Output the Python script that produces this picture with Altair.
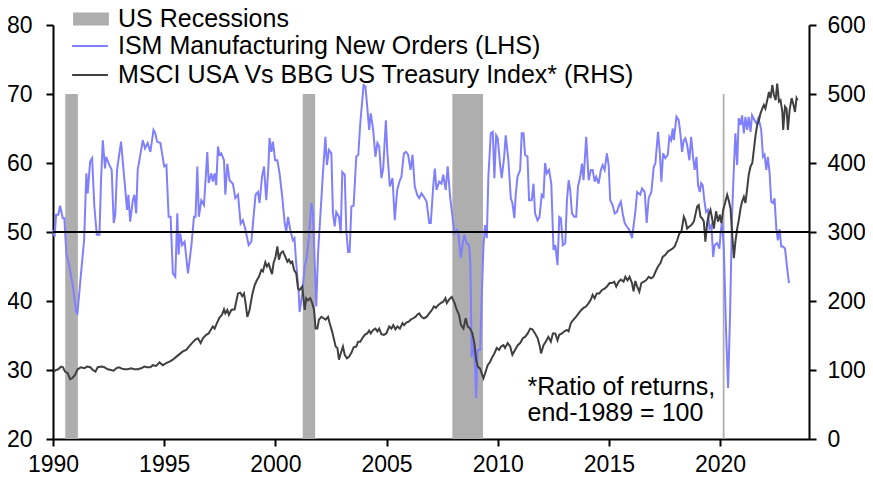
import altair as alt
import pandas as pd

FONT = "Liberation Sans"

# ---------------- data ----------------
ism_year = [
    1990.00, 1990.07, 1990.14, 1990.24, 1990.32, 1990.44, 1990.51, 1990.60, 1990.74, 1990.90,
    1991.04, 1991.10, 1991.26, 1991.40, 1991.50, 1991.56, 1991.67, 1991.76, 1991.86, 1991.97,
    1992.09, 1992.16, 1992.24, 1992.34, 1992.39, 1992.54, 1992.64, 1992.73, 1992.80, 1992.88,
    1993.06, 1993.20, 1993.33, 1993.39, 1993.47, 1993.59, 1993.66, 1993.74, 1993.81, 1994.04,
    1994.14, 1994.26, 1994.38, 1994.52, 1994.60, 1994.68, 1994.83, 1995.00, 1995.10, 1995.20,
    1995.29, 1995.39, 1995.50, 1995.59, 1995.65, 1995.72, 1995.81, 1995.92, 1996.07, 1996.22,
    1996.34, 1996.41, 1996.49, 1996.56, 1996.67, 1996.79, 1996.94, 1997.00, 1997.12, 1997.19,
    1997.27, 1997.34, 1997.42, 1997.49, 1997.57, 1997.69, 1997.75, 1997.84, 1997.94, 1998.09,
    1998.20, 1998.32, 1998.44, 1998.54, 1998.66, 1998.80, 1998.92, 1999.11, 1999.22, 1999.29,
    1999.40, 1999.49, 1999.59, 1999.68, 1999.74, 1999.82, 1999.89, 1999.99, 2000.09, 2000.19,
    2000.31, 2000.42, 2000.49, 2000.57, 2000.67, 2000.79, 2000.86, 2000.94, 2001.05, 2001.09,
    2001.21, 2001.32, 2001.42, 2001.51, 2001.62, 2001.69, 2001.77, 2001.84, 2001.92, 2002.02,
    2002.14, 2002.25, 2002.32, 2002.41, 2002.52, 2002.59, 2002.67, 2002.74, 2002.86, 2002.94,
    2003.01, 2003.12, 2003.19, 2003.27, 2003.34, 2003.42, 2003.52, 2003.64, 2003.73, 2003.82,
    2003.91, 2003.97, 2004.05, 2004.13, 2004.22, 2004.29, 2004.40, 2004.50, 2004.59, 2004.67,
    2004.77, 2004.85, 2004.97, 2005.04, 2005.15, 2005.27, 2005.37, 2005.48, 2005.60, 2005.67,
    2005.78, 2005.87, 2005.97, 2006.08, 2006.17, 2006.27, 2006.38, 2006.47, 2006.57, 2006.68,
    2006.80, 2006.92, 2006.99, 2007.10, 2007.17, 2007.25, 2007.37, 2007.47, 2007.55, 2007.66,
    2007.75, 2007.86, 2007.93, 2008.05, 2008.16, 2008.23, 2008.34, 2008.41, 2008.50, 2008.60,
    2008.71, 2008.77, 2008.83, 2008.90, 2008.98, 2009.03, 2009.10, 2009.21, 2009.28, 2009.36,
    2009.43, 2009.51, 2009.58, 2009.69, 2009.78, 2009.85, 2009.93, 2010.00, 2010.11, 2010.18,
    2010.29, 2010.36, 2010.48, 2010.59, 2010.66, 2010.75, 2010.81, 2010.89, 2011.01, 2011.08,
    2011.16, 2011.23, 2011.34, 2011.41, 2011.53, 2011.61, 2011.68, 2011.79, 2011.88, 2011.98,
    2012.06, 2012.13, 2012.21, 2012.31, 2012.41, 2012.51, 2012.59, 2012.69, 2012.77, 2012.84,
    2012.93, 2013.04, 2013.11, 2013.19, 2013.26, 2013.34, 2013.44, 2013.53, 2013.61, 2013.71,
    2013.79, 2013.86, 2013.98, 2014.09, 2014.19, 2014.27, 2014.36, 2014.43, 2014.54, 2014.64,
    2014.72, 2014.81, 2014.91, 2014.99, 2015.06, 2015.17, 2015.26, 2015.36, 2015.44, 2015.54,
    2015.62, 2015.71, 2015.81, 2015.92, 2016.04, 2016.19, 2016.27, 2016.41, 2016.49, 2016.61,
    2016.70, 2016.79, 2016.91, 2017.02, 2017.09, 2017.21, 2017.29, 2017.36, 2017.44, 2017.54,
    2017.65, 2017.72, 2017.80, 2017.87, 2017.92, 2018.04, 2018.14, 2018.22, 2018.29, 2018.37,
    2018.44, 2018.52, 2018.62, 2018.70, 2018.79, 2018.86, 2018.94, 2019.01, 2019.09, 2019.15,
    2019.22, 2019.30, 2019.37, 2019.46, 2019.52, 2019.61, 2019.69, 2019.76, 2019.87, 2019.97,
    2020.03, 2020.09, 2020.17, 2020.27, 2020.36, 2020.45, 2020.54, 2020.62, 2020.69, 2020.77,
    2020.84, 2020.92, 2020.99, 2021.07, 2021.14, 2021.22, 2021.29, 2021.37, 2021.44, 2021.55,
    2021.64, 2021.72, 2021.79, 2021.85, 2021.93, 2022.00, 2022.08, 2022.15, 2022.23, 2022.30,
    2022.38, 2022.45, 2022.53, 2022.60, 2022.68, 2022.75, 2022.83, 2022.92, 2023.02, 2023.10,
]
ism_value = [
    50.3, 49.3, 52.5, 52.5, 53.8, 52.0, 52.0, 46.9, 45.0, 42.0,
    38.4, 38.2, 44.0, 48.8, 58.5, 55.6, 60.2, 60.7, 53.7, 49.6,
    49.6, 57.5, 63.3, 59.2, 60.9, 59.7, 59.0, 51.3, 52.5, 59.0,
    63.1, 58.0, 53.2, 55.4, 51.5, 54.6, 55.4, 52.7, 59.0, 63.3,
    62.1, 62.9, 61.6, 64.8, 64.3, 63.1, 62.9, 59.5, 59.7, 52.2,
    52.2, 44.0, 43.5, 52.7, 46.7, 49.8, 48.1, 48.6, 44.0, 47.9,
    52.2, 52.2, 59.5, 52.2, 54.6, 53.9, 61.6, 57.1, 58.5, 57.3,
    58.5, 56.8, 62.4, 61.2, 61.4, 60.4, 55.4, 59.9, 57.5, 57.0,
    54.9, 55.4, 51.2, 51.7, 50.3, 48.1, 48.6, 55.4, 55.8, 54.2,
    58.0, 59.5, 54.6, 59.0, 63.6, 61.6, 63.1, 60.4, 60.4, 58.5,
    55.1, 51.3, 50.0, 52.2, 50.3, 48.8, 49.1, 45.4, 41.1, 38.4,
    41.1, 45.0, 46.4, 49.3, 54.2, 52.7, 45.4, 39.2, 46.9, 52.2,
    58.5, 63.8, 59.7, 61.9, 61.4, 52.7, 50.8, 52.9, 52.2, 49.8,
    58.7, 58.3, 50.3, 47.1, 47.1, 53.7, 53.8, 60.9, 61.2, 65.8,
    69.1, 71.3, 71.1, 68.2, 64.8, 67.2, 64.8, 60.9, 62.9, 62.4,
    57.8, 59.2, 66.2, 61.4, 56.6, 57.8, 51.7, 56.1, 57.5, 58.0,
    61.4, 61.6, 61.2, 59.0, 61.2, 56.6, 55.4, 54.9, 55.6, 55.1,
    54.4, 51.3, 51.3, 56.6, 59.2, 56.1, 57.3, 57.0, 58.3, 56.1,
    59.5, 55.1, 53.2, 49.8, 50.3, 49.8, 46.2, 47.9, 49.6, 48.4,
    48.1, 45.5, 31.9, 34.4, 30.5, 25.9, 32.9, 32.9, 40.6, 47.9,
    51.0, 49.1, 58.0, 64.3, 64.5, 57.8, 64.0, 63.6, 59.7, 57.8,
    60.9, 64.0, 60.4, 54.9, 54.2, 52.0, 55.4, 58.0, 59.0, 64.3,
    64.3, 61.2, 60.9, 54.6, 54.6, 57.0, 52.7, 51.7, 52.2, 55.4,
    55.1, 60.0, 58.5, 59.0, 57.0, 47.4, 48.1, 45.2, 52.2, 52.0,
    48.1, 48.4, 54.4, 57.5, 56.1, 52.7, 52.2, 52.2, 56.6, 58.0,
    59.9, 57.5, 63.8, 57.5, 59.0, 59.0, 57.3, 58.0, 57.0, 59.0,
    59.7, 59.0, 61.4, 59.7, 54.6, 53.9, 52.7, 52.9, 53.7, 54.4,
    52.7, 51.3, 50.8, 50.3, 49.1, 52.9, 55.8, 55.4, 56.3, 55.8,
    51.3, 54.9, 55.8, 59.5, 59.9, 64.5, 61.6, 57.3, 61.4, 60.7,
    61.2, 63.8, 63.3, 65.0, 63.3, 66.7, 66.2, 64.1, 61.6, 63.3,
    63.6, 62.6, 60.4, 63.8, 60.7, 59.0, 60.9, 56.8, 55.8, 57.1,
    56.8, 54.4, 52.9, 53.2, 50.5, 51.0, 46.4, 48.1, 48.4, 47.6,
    50.1, 51.5, 47.6, 35.6, 27.4, 38.0, 52.5, 59.2, 64.3, 59.7,
    66.5, 65.5, 66.9, 64.3, 66.7, 64.8, 66.7, 64.5, 66.9, 66.2,
    65.7, 66.5, 65.7, 64.8, 60.9, 61.2, 59.0, 60.9, 58.5, 54.4,
    54.2, 54.9, 50.5, 48.8, 50.4, 47.9, 47.9, 47.6, 44.7, 42.6,
]

msci_year = [
    1990.03, 1990.14, 1990.24, 1990.36, 1990.45, 1990.54, 1990.66, 1990.77, 1990.86, 1990.99,
    1991.11, 1991.26, 1991.41, 1991.53, 1991.68, 1991.79, 1991.91, 1992.01, 1992.19, 1992.31,
    1992.46, 1992.61, 1992.73, 1992.84, 1992.96, 1993.10, 1993.21, 1993.36, 1993.51, 1993.66,
    1993.81, 1993.96, 1994.11, 1994.23, 1994.38, 1994.49, 1994.64, 1994.79, 1994.94, 1995.09,
    1995.24, 1995.39, 1995.54, 1995.69, 1995.84, 1995.99, 1996.14, 1996.25, 1996.40, 1996.52,
    1996.64, 1996.74, 1996.89, 1997.00, 1997.09, 1997.19, 1997.27, 1997.37, 1997.49, 1997.60,
    1997.69, 1997.75, 1997.84, 1997.91, 1998.02, 1998.17, 1998.24, 1998.32, 1998.42, 1998.51,
    1998.59, 1998.66, 1998.74, 1998.84, 1998.96, 1999.07, 1999.17, 1999.26, 1999.37, 1999.44,
    1999.55, 1999.62, 1999.70, 1999.77, 1999.85, 1999.92, 2000.01, 2000.09, 2000.16, 2000.24,
    2000.34, 2000.45, 2000.54, 2000.61, 2000.69, 2000.76, 2000.84, 2000.94, 2001.02, 2001.09,
    2001.21, 2001.32, 2001.39, 2001.47, 2001.57, 2001.66, 2001.74, 2001.81, 2001.89, 2001.96,
    2002.07, 2002.17, 2002.26, 2002.37, 2002.44, 2002.55, 2002.64, 2002.71, 2002.79, 2002.86,
    2002.94, 2003.04, 2003.12, 2003.22, 2003.31, 2003.42, 2003.52, 2003.64, 2003.72, 2003.82,
    2003.91, 2004.02, 2004.13, 2004.22, 2004.29, 2004.40, 2004.50, 2004.59, 2004.67, 2004.77,
    2004.88, 2004.99, 2005.12, 2005.22, 2005.30, 2005.40, 2005.49, 2005.60, 2005.72, 2005.79,
    2005.90, 2006.00, 2006.09, 2006.20, 2006.30, 2006.38, 2006.47, 2006.57, 2006.68, 2006.80,
    2006.92, 2007.02, 2007.13, 2007.22, 2007.32, 2007.44, 2007.55, 2007.65, 2007.71, 2007.81,
    2007.93, 2008.05, 2008.16, 2008.26, 2008.35, 2008.46, 2008.56, 2008.65, 2008.76, 2008.86,
    2008.95, 2009.03, 2009.10, 2009.21, 2009.28, 2009.36, 2009.43, 2009.55, 2009.66, 2009.76,
    2009.85, 2009.96, 2010.06, 2010.15, 2010.26, 2010.33, 2010.45, 2010.56, 2010.66, 2010.78,
    2010.90, 2011.01, 2011.13, 2011.23, 2011.35, 2011.46, 2011.56, 2011.68, 2011.80, 2011.88,
    2011.95, 2012.06, 2012.16, 2012.28, 2012.39, 2012.48, 2012.59, 2012.69, 2012.77, 2012.89,
    2013.00, 2013.11, 2013.19, 2013.29, 2013.41, 2013.52, 2013.64, 2013.76, 2013.86, 2013.97,
    2014.09, 2014.19, 2014.27, 2014.36, 2014.46, 2014.57, 2014.69, 2014.81, 2014.91, 2015.03,
    2015.14, 2015.24, 2015.33, 2015.44, 2015.54, 2015.66, 2015.74, 2015.84, 2015.93, 2016.04,
    2016.11, 2016.19, 2016.27, 2016.37, 2016.46, 2016.57, 2016.67, 2016.79, 2016.90, 2017.00,
    2017.09, 2017.21, 2017.32, 2017.42, 2017.54, 2017.66, 2017.77, 2017.87, 2017.96, 2018.07,
    2018.17, 2018.26, 2018.37, 2018.44, 2018.52, 2018.62, 2018.71, 2018.82, 2018.89, 2018.97,
    2019.04, 2019.12, 2019.19, 2019.27, 2019.34, 2019.42, 2019.49, 2019.57, 2019.64, 2019.72,
    2019.76, 2019.82, 2019.91, 2019.99, 2020.06, 2020.14, 2020.24, 2020.32, 2020.39, 2020.47,
    2020.54, 2020.62, 2020.69, 2020.77, 2020.84, 2020.92, 2020.99, 2021.07, 2021.14, 2021.22,
    2021.29, 2021.37, 2021.45, 2021.52, 2021.60, 2021.67, 2021.75, 2021.82, 2021.90, 2021.97,
    2022.04, 2022.12, 2022.20, 2022.27, 2022.35, 2022.42, 2022.50, 2022.57, 2022.65, 2022.72,
    2022.80, 2022.84, 2022.92, 2022.99, 2023.05, 2023.13, 2023.22, 2023.29, 2023.37, 2023.44,
    2023.49,
]
msci_value = [
    97.7, 100, 101, 105, 104, 97.7, 95.3, 86.6, 88, 92.8,
    101, 104, 102.5, 105, 104, 100, 97.7, 104, 105, 104,
    101, 100, 99, 102.5, 104, 102, 101, 101, 102.5, 101,
    101, 102.5, 105, 104, 104, 107, 106, 111, 107, 110,
    112, 115, 119, 123, 127, 129, 135, 139, 144, 146,
    139, 146, 151, 153, 158, 163, 160, 168, 176, 180,
    188, 182, 187, 180, 187, 188, 199, 211, 212, 207,
    211, 197, 177, 187, 209, 223, 230, 235, 245, 243,
    256, 250, 254, 247, 239, 255, 264, 279, 260, 269,
    272, 264, 257, 260, 255, 257, 245, 240, 218, 216,
    221, 187, 204, 201, 204, 197, 187, 160, 160, 173,
    177, 175, 173, 177, 168, 156, 144, 134, 132, 115,
    124, 134, 122, 117, 119, 125, 133, 134, 141, 141,
    146, 151, 153, 157, 153, 158, 160, 156, 160, 152,
    151, 153, 163, 160, 165, 159, 163, 160, 168, 165,
    169, 170, 173, 175, 177, 180, 182, 177, 175, 177,
    182, 186, 192, 190, 194, 197, 199, 204, 197, 202,
    206, 198, 187, 180, 165, 160, 175, 163, 160, 153,
    139, 115, 105, 102, 95, 88, 95, 107, 112, 119,
    124, 132, 129, 134, 136, 132, 139, 134, 122, 129,
    136, 139, 146, 148, 153, 160, 159, 153, 146, 136,
    124, 136, 141, 148, 141, 153, 153, 143, 151, 153,
    156, 158, 156, 168, 173, 177, 182, 187, 190, 192,
    197, 202, 209, 204, 211, 211, 216, 218, 221, 226,
    226, 228, 221, 228, 231, 228, 235, 230, 235, 226,
    214, 229, 221, 213.5, 226, 228, 230, 235, 233, 235,
    242, 250, 255, 264, 267, 272, 274, 276, 279, 288,
    298, 300, 322, 317, 305, 308, 310, 315, 325, 337,
    339, 322, 320, 315, 286, 313, 325, 332, 320, 305,
    315, 330, 315, 325, 313, 332, 344, 354, 346, 334,
    300, 262, 286, 305, 317, 334, 344, 351, 342, 363,
    383, 395, 400, 419, 441, 455, 462, 472, 479, 484,
    479, 491, 503, 494, 513, 499, 491, 515, 489, 491,
    474, 448, 482, 479, 448, 477, 494, 486, 474, 494,
    491,
]

rec_start = [1990.55, 2001.23, 2007.96, 2020.12]
rec_end = [1991.12, 2001.79, 2009.34, 2020.20]
rec_low = [20, 20, 20, 20]
rec_high = [70, 70, 70, 70]

ref_level_rhs = [300]          # = 50 on the left-hand scale

series_names = ["ISM Manufacturing New Orders (LHS)",
                "MSCI USA Vs BBG US Treasury Index* (RHS)"]
series_colors = ["#8080ff", "#404040"]
rec_name = "US Recessions"

note_text = ["*Ratio of returns,", "end-1989 = 100"]
note_year = [2011.34, 2011.34]
note_level = [27.6, 23.7]

x_ticks = [1990, 1995, 2000, 2005, 2010, 2015, 2020]
left_ticks = [20, 30, 40, 50, 60, 70, 80]
right_ticks = [0, 100, 200, 300, 400, 500, 600]

# ---------------- tables ----------------
ism_df = pd.DataFrame({"year": ism_year, "value": ism_value, "series": series_names[0]})
msci_df = pd.DataFrame({"year": msci_year, "value": msci_value, "series": series_names[1]})
rec_df = pd.DataFrame({"start": rec_start, "end": rec_end, "low": rec_low,
                       "high": rec_high, "name": rec_name})
ref_df = pd.DataFrame({"level": ref_level_rhs})
note_df = pd.DataFrame({"year": note_year, "level": note_level, "text": note_text})

# ---------------- scales / axes ----------------
x_scale = alt.Scale(domain=[1990, 2024], nice=False, zero=False)
yl_scale = alt.Scale(domain=[20, 80], nice=False, zero=False)
yr_scale = alt.Scale(domain=[0, 600], nice=False)

axis_common = dict(domainColor="black", domainWidth=2, tickColor="black", tickWidth=2,
                   tickSize=7, labelColor="black", labelFont=FONT, labelFontSize=23,
                   grid=False, labelFlush=False, labelOverlap=False)
x_axis = alt.Axis(values=x_ticks, format="d", labelPadding=7, **axis_common)
left_axis = alt.Axis(values=left_ticks, orient="left", labelPadding=14, **axis_common)
right_axis = alt.Axis(values=right_ticks, orient="right", labelPadding=11, **axis_common)

color_scale = alt.Scale(domain=series_names, range=series_colors)

rec_legend = alt.Legend(orient="none", legendX=16, legendY=-18.5, padding=0,
                        symbolType="M-2,-0.72H2V0.72H-2Z", symbolSize=320,
                        symbolStrokeWidth=0, symbolOffset=9.5, labelOffset=14.5,
                        labelFont=FONT, labelFontSize=25, labelColor="black",
                        labelLimit=1000, rowPadding=3)
line_legend = alt.Legend(orient="none", legendX=16, legendY=8.5, padding=0,
                         symbolType="M-2,0H2", symbolSize=320,
                         symbolStrokeWidth=2, symbolOffset=8.5, labelOffset=15.5,
                         labelFont=FONT, labelFontSize=25, labelColor="black",
                         labelLimit=1000, rowPadding=3)

# ---------------- left-hand group ----------------
rec = alt.Chart(rec_df).mark_rect().encode(
    x=alt.X("start:Q", scale=x_scale, axis=x_axis, title=None),
    x2="end:Q",
    y=alt.Y("low:Q", scale=yl_scale, axis=left_axis, title=None),
    y2="high:Q",
    fill=alt.Fill("name:N", scale=alt.Scale(domain=[rec_name], range=["#aeaeae"]),
                  legend=rec_legend, title=None),
)

ism = alt.Chart(ism_df).mark_line(strokeWidth=2).encode(
    x=alt.X("year:Q", scale=x_scale, title=None),
    y=alt.Y("value:Q", scale=yl_scale, title=None),
    color=alt.Color("series:N", scale=color_scale, legend=line_legend, title=None),
    order="year:Q",
)

note = alt.Chart(note_df).mark_text(align="left", baseline="middle", font=FONT,
                                    fontSize=25, color="black").encode(
    x=alt.X("year:Q", scale=x_scale, title=None),
    y=alt.Y("level:Q", scale=yl_scale, title=None),
    text="text:N",
)

left = alt.layer(rec, ism, note)

# ---------------- right-hand group ----------------
msci = alt.Chart(msci_df).mark_line(strokeWidth=2).encode(
    x=alt.X("year:Q", scale=x_scale, title=None),
    y=alt.Y("value:Q", scale=yr_scale, axis=right_axis, title=None),
    color=alt.Color("series:N", scale=color_scale, legend=line_legend, title=None),
    order="year:Q",
)

ref = alt.Chart(ref_df).mark_rule(color="black", strokeWidth=2).encode(
    y=alt.Y("level:Q", scale=yr_scale, title=None),
)

right = alt.layer(msci, ref)

chart = (
    alt.layer(left, right)
    .resolve_scale(y="independent")
    .properties(width=756, height=414,
                autosize=alt.AutoSizeParams(type="none"),
                padding={"left": 45, "top": 17, "right": 56, "bottom": 38})
    .configure_view(stroke=None)
)

chart.save("out.html", embed_options={"renderer": "svg", "actions": False})
